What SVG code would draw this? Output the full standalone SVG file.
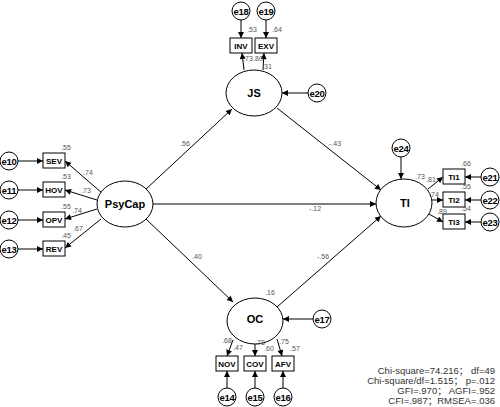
<svg xmlns="http://www.w3.org/2000/svg" width="500" height="407" viewBox="0 0 500 407">
<defs>
<marker id="ah" viewBox="0 0 10 10" refX="10" refY="5" markerWidth="8" markerHeight="6" markerUnits="userSpaceOnUse" orient="auto"><path d="M0,0 L10,5 L0,10 z" fill="#000"/></marker>
<style>
text{font-family:"Liberation Sans","Noto Sans CJK SC",Arial,sans-serif;}
.lat{fill:#fff;stroke:#000;stroke-width:1}
.obs{fill:#fff;stroke:#000;stroke-width:1}
.err{fill:#fff;stroke:#000;stroke-width:1}
.lt{font-size:11px;font-weight:bold;text-anchor:middle;fill:#000}
.ot{font-size:8px;font-weight:bold;text-anchor:middle;fill:#000}
.et{font-size:9.5px;font-weight:bold;text-anchor:middle;fill:#000;letter-spacing:-0.3px}
.co line{stroke:#000;stroke-width:1;marker-end:url(#ah)}
.v{font-size:7px;fill:#555;text-anchor:middle}
.st{font-size:9.5px;fill:#333;text-anchor:end}
</style>
</defs>
<rect width="500" height="407" fill="#fff"/>

<g id="connectors" class="co">
<line x1="145" y1="190" x2="232" y2="109"/>
<line x1="153" y1="204" x2="376" y2="204"/>
<line x1="146" y1="219" x2="233" y2="302"/>
<line x1="277" y1="108" x2="381" y2="190"/>
<line x1="277" y1="307" x2="381" y2="216"/>
<line x1="102" y1="193" x2="65" y2="161"/>
<line x1="97" y1="200" x2="65" y2="190"/>
<line x1="97" y1="209" x2="65" y2="219"/>
<line x1="101" y1="219" x2="65" y2="248"/>
<line x1="244" y1="70" x2="242" y2="53"/>
<line x1="263" y1="70" x2="264" y2="53"/>
<line x1="428" y1="189" x2="443" y2="177"/>
<line x1="432" y1="200" x2="443" y2="200"/>
<line x1="429" y1="214" x2="443" y2="222"/>
<line x1="233" y1="340" x2="227" y2="356"/>
<line x1="255" y1="344" x2="255" y2="356"/>
<line x1="277" y1="339" x2="282" y2="356"/>
<line x1="18" y1="161" x2="43" y2="161"/>
<line x1="18" y1="190" x2="43" y2="190"/>
<line x1="18" y1="220" x2="43" y2="220"/>
<line x1="18" y1="249" x2="43" y2="249"/>
<line x1="241" y1="20" x2="241" y2="38"/>
<line x1="266" y1="20" x2="266" y2="38"/>
<line x1="308" y1="93" x2="282" y2="93"/>
<line x1="401" y1="157" x2="401" y2="179"/>
<line x1="481" y1="177" x2="465" y2="177"/>
<line x1="481" y1="200" x2="465" y2="200"/>
<line x1="481" y1="222" x2="465" y2="222"/>
<line x1="313" y1="319" x2="283" y2="319"/>
<line x1="227" y1="388" x2="227" y2="371"/>
<line x1="255" y1="388" x2="255" y2="371"/>
<line x1="283" y1="388" x2="283" y2="371"/>
</g>

<g id="PsyCap"><ellipse class="lat" cx="125" cy="204" rx="28" ry="23"/><text class="lt" x="125" y="208">PsyCap</text></g>
<g id="JS"><ellipse class="lat" cx="254" cy="93" rx="28" ry="23"/><text class="lt" x="254" y="97">JS</text></g>
<g id="OC"><ellipse class="lat" cx="255" cy="321" rx="28" ry="23"/><text class="lt" x="255" y="323">OC</text></g>
<g id="TI"><ellipse class="lat" cx="404" cy="203" rx="28" ry="24"/><text class="lt" x="405" y="207">TI</text></g>

<g id="SEV"><rect class="obs" x="43" y="153" width="22" height="15"/><text class="ot" x="54" y="163.5">SEV</text></g>
<g id="HOV"><rect class="obs" x="43" y="182" width="22" height="15"/><text class="ot" x="54" y="192.5">HOV</text></g>
<g id="OPV"><rect class="obs" x="43" y="212" width="22" height="15"/><text class="ot" x="54" y="222.5">OPV</text></g>
<g id="REV"><rect class="obs" x="43" y="241" width="22" height="15"/><text class="ot" x="54" y="251.5">REV</text></g>
<g id="INV"><rect class="obs" x="230" y="38" width="22" height="15"/><text class="ot" x="241" y="48.5">INV</text></g>
<g id="EXV"><rect class="obs" x="255" y="38" width="22" height="15"/><text class="ot" x="266" y="48.5">EXV</text></g>
<g id="TI1"><rect class="obs" x="443" y="169" width="22" height="15"/><text class="ot" x="454" y="179.5">TI1</text></g>
<g id="TI2"><rect class="obs" x="443" y="192" width="22" height="15"/><text class="ot" x="454" y="202.5">TI2</text></g>
<g id="TI3"><rect class="obs" x="443" y="214" width="22" height="15"/><text class="ot" x="454" y="224.5">TI3</text></g>
<g id="NOV"><rect class="obs" x="216" y="356" width="22" height="15"/><text class="ot" x="227" y="366.5">NOV</text></g>
<g id="COV"><rect class="obs" x="244" y="356" width="22" height="15"/><text class="ot" x="255" y="366.5">COV</text></g>
<g id="AFV"><rect class="obs" x="272" y="356" width="22" height="15"/><text class="ot" x="283" y="366.5">AFV</text></g>

<g id="e10"><circle class="err" cx="9" cy="161" r="9"/><text class="et" x="9" y="164.5">e10</text></g>
<g id="e11"><circle class="err" cx="9" cy="190" r="9"/><text class="et" x="9" y="193.5">e11</text></g>
<g id="e12"><circle class="err" cx="9" cy="220" r="9"/><text class="et" x="9" y="223.5">e12</text></g>
<g id="e13"><circle class="err" cx="9" cy="249" r="9"/><text class="et" x="9" y="252.5">e13</text></g>
<g id="e18"><circle class="err" cx="241" cy="11" r="9"/><text class="et" x="241" y="14.5">e18</text></g>
<g id="e19"><circle class="err" cx="266" cy="11" r="9"/><text class="et" x="266" y="14.5">e19</text></g>
<g id="e20"><circle class="err" cx="317" cy="93" r="9"/><text class="et" x="317" y="96.5">e20</text></g>
<g id="e24"><circle class="err" cx="401" cy="148" r="9"/><text class="et" x="401" y="151.5">e24</text></g>
<g id="e21"><circle class="err" cx="490" cy="177" r="9"/><text class="et" x="490" y="180.5">e21</text></g>
<g id="e22"><circle class="err" cx="490" cy="200" r="9"/><text class="et" x="490" y="203.5">e22</text></g>
<g id="e23"><circle class="err" cx="490" cy="222" r="9"/><text class="et" x="490" y="225.5">e23</text></g>
<g id="e17"><circle class="err" cx="322" cy="319" r="9"/><text class="et" x="322" y="322.5">e17</text></g>
<g id="e14"><circle class="err" cx="227" cy="397" r="9"/><text class="et" x="227" y="400.5">e14</text></g>
<g id="e15"><circle class="err" cx="255" cy="397" r="9"/><text class="et" x="255" y="400.5">e15</text></g>
<g id="e16"><circle class="err" cx="283" cy="397" r="9"/><text class="et" x="283" y="400.5">e16</text></g>

<g id="labels">
<text class="v" x="252" y="31.5">.53</text>
<text class="v" x="277" y="31.5">.64</text>
<text class="v" x="248" y="60.5">.73</text>
<text class="v" x="258" y="60.5">.80</text>
<text class="v" x="267" y="68.5">.31</text>
<text class="v" x="66" y="149.5">.55</text>
<text class="v" x="88" y="174.5">.74</text>
<text class="v" x="66" y="178.5">.53</text>
<text class="v" x="86" y="192.5">.73</text>
<text class="v" x="66" y="208.5">.55</text>
<text class="v" x="77" y="212.5">.74</text>
<text class="v" x="78" y="230.5">.67</text>
<text class="v" x="66" y="237.5">.45</text>
<text class="v" x="466" y="165.5">.66</text>
<text class="v" x="466" y="188.5">.55</text>
<text class="v" x="466" y="210.5">.54</text>
<text class="v" x="420" y="178.5">.73</text>
<text class="v" x="431" y="181.5">.81</text>
<text class="v" x="434" y="196.5">.74</text>
<text class="v" x="442" y="213.5">.89</text>
<text class="v" x="270" y="294.5">.16</text>
<text class="v" x="227" y="342.5">.68</text>
<text class="v" x="238" y="349.5">.47</text>
<text class="v" x="260" y="344.5">.78</text>
<text class="v" x="269" y="350.5">.60</text>
<text class="v" x="284" y="343.5">.75</text>
<text class="v" x="295" y="350.5">.57</text>
<text class="v" x="185" y="145.5">.56</text>
<text class="v" x="197" y="258.5">.40</text>
<text class="v" x="335" y="145.5">-.43</text>
<text class="v" x="315" y="210.5">-.12</text>
<text class="v" x="323" y="258.5">-.56</text>
</g>

<g id="stats">
<text class="st" x="495" y="374">Chi-square=74.216； df=49</text>
<text class="st" x="495" y="384">Chi-square/df=1.515； p=.012</text>
<text class="st" x="495" y="394">GFI=.970；  AGFI=.952</text>
<text class="st" x="495" y="404">CFI=.987；RMSEA=.036</text>
</g>
</svg>
